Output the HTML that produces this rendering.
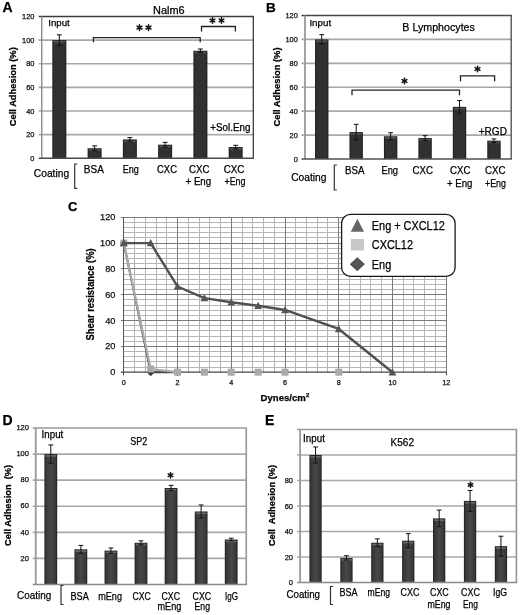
<!DOCTYPE html><html><head><meta charset="utf-8"><style>html,body{margin:0;padding:0;background:#fff;overflow:hidden}svg{display:block;will-change:transform}text{font-family:"Liberation Sans",sans-serif;stroke:currentColor;stroke-width:0.25px}</style></head><body>
<svg width="520" height="615" viewBox="0 0 520 615">
<defs><linearGradient id="g1" x1="0" x2="1" y1="0" y2="0"><stop offset="0" stop-color="#363636"/><stop offset="0.5" stop-color="#484848"/><stop offset="1" stop-color="#363636"/></linearGradient></defs>
<rect width="520" height="615" fill="#fff"/>
<line x1="38.70" y1="134.67" x2="253.30" y2="134.67" stroke="#a8a8a8" stroke-width="1.6"/>
<line x1="38.70" y1="111.03" x2="253.30" y2="111.03" stroke="#a8a8a8" stroke-width="1.6"/>
<line x1="38.70" y1="87.40" x2="253.30" y2="87.40" stroke="#a8a8a8" stroke-width="1.6"/>
<line x1="38.70" y1="63.77" x2="253.30" y2="63.77" stroke="#a8a8a8" stroke-width="1.6"/>
<line x1="38.70" y1="40.13" x2="253.30" y2="40.13" stroke="#a8a8a8" stroke-width="1.6"/>
<line x1="38.70" y1="16.50" x2="253.95" y2="16.50" stroke="#3c3c3c" stroke-width="1.3"/>
<line x1="253.30" y1="16.50" x2="253.30" y2="158.30" stroke="#3c3c3c" stroke-width="1.3"/>
<line x1="41.70" y1="16.50" x2="41.70" y2="158.30" stroke="#8a8a8a" stroke-width="1.4"/>
<rect x="52.33" y="40.13" width="14.00" height="118.17" fill="#202020"/>
<rect x="53.43" y="41.13" width="11.80" height="117.17" fill="#313131"/>
<rect x="53.43" y="41.13" width="11.80" height="1.50" fill="#565656"/>
<path d="M59.33 34.82V45.45M56.83 34.82H61.83M56.83 45.45H61.83" stroke="#111" stroke-width="1" fill="none"/>
<rect x="87.60" y="148.26" width="14.00" height="10.04" fill="#202020"/>
<rect x="88.70" y="149.26" width="11.80" height="9.04" fill="#313131"/>
<rect x="88.70" y="149.26" width="11.80" height="1.50" fill="#565656"/>
<path d="M94.60 145.89V150.62M92.10 145.89H97.10M92.10 150.62H97.10" stroke="#111" stroke-width="1" fill="none"/>
<rect x="122.87" y="139.39" width="14.00" height="18.91" fill="#202020"/>
<rect x="123.97" y="140.39" width="11.80" height="17.91" fill="#313131"/>
<rect x="123.97" y="140.39" width="11.80" height="1.50" fill="#565656"/>
<path d="M129.87 137.62V141.17M127.37 137.62H132.37M127.37 141.17H132.37" stroke="#111" stroke-width="1" fill="none"/>
<rect x="158.13" y="144.71" width="14.00" height="13.59" fill="#202020"/>
<rect x="159.23" y="145.71" width="11.80" height="12.59" fill="#313131"/>
<rect x="159.23" y="145.71" width="11.80" height="1.50" fill="#565656"/>
<path d="M165.13 142.35V147.07M162.63 142.35H167.63M162.63 147.07H167.63" stroke="#111" stroke-width="1" fill="none"/>
<rect x="193.40" y="50.77" width="14.00" height="107.53" fill="#202020"/>
<rect x="194.50" y="51.77" width="11.80" height="106.53" fill="#313131"/>
<rect x="194.50" y="51.77" width="11.80" height="1.50" fill="#565656"/>
<path d="M200.40 49.00V52.54M197.90 49.00H202.90M197.90 52.54H202.90" stroke="#111" stroke-width="1" fill="none"/>
<rect x="228.67" y="147.07" width="14.00" height="11.23" fill="#202020"/>
<rect x="229.77" y="148.07" width="11.80" height="10.23" fill="#313131"/>
<rect x="229.77" y="148.07" width="11.80" height="1.50" fill="#565656"/>
<path d="M235.67 145.30V148.85M233.17 145.30H238.17M233.17 148.85H238.17" stroke="#111" stroke-width="1" fill="none"/>
<line x1="38.70" y1="158.30" x2="253.95" y2="158.30" stroke="#4a4a4a" stroke-width="1.5"/>
<text x="34.40" y="160.90" font-size="7.4" text-anchor="end" fill="#222">0</text>
<text x="34.40" y="137.27" font-size="7.4" text-anchor="end" fill="#222">20</text>
<text x="34.40" y="113.63" font-size="7.4" text-anchor="end" fill="#222">40</text>
<text x="34.40" y="90.00" font-size="7.4" text-anchor="end" fill="#222">60</text>
<text x="34.40" y="66.37" font-size="7.4" text-anchor="end" fill="#222">80</text>
<text x="34.40" y="42.73" font-size="7.4" text-anchor="end" fill="#222">100</text>
<text x="34.40" y="19.10" font-size="7.4" text-anchor="end" fill="#222">120</text>
<text x="2.50" y="12.30" font-size="14" font-weight="bold" fill="#000">A</text>
<text x="153.00" y="13.70" font-size="10" textLength="31.60" lengthAdjust="spacingAndGlyphs">Nalm6</text>
<text x="48.20" y="26.20" font-size="9.8" textLength="21.60" lengthAdjust="spacingAndGlyphs">Input</text>
<text x="16.30" y="86.75" font-size="9.6" font-weight="bold" text-anchor="middle" textLength="79.00" lengthAdjust="spacingAndGlyphs" fill="#000" transform="rotate(-90 16.30 86.75)">Cell Adhesion (%)</text>
<path d="M93.40 42.30V37.60H200.20V42.30" stroke="#222" stroke-width="1.3" fill="none"/>
<line x1="139.50" y1="30.40" x2="139.50" y2="24.70" stroke="#111" stroke-width="1.5" stroke-linecap="round"/>
<line x1="137.03" y1="28.98" x2="141.97" y2="26.12" stroke="#111" stroke-width="1.5" stroke-linecap="round"/>
<line x1="137.03" y1="26.12" x2="141.97" y2="28.98" stroke="#111" stroke-width="1.5" stroke-linecap="round"/>
<line x1="148.50" y1="30.40" x2="148.50" y2="24.70" stroke="#111" stroke-width="1.5" stroke-linecap="round"/>
<line x1="146.03" y1="28.98" x2="150.97" y2="26.12" stroke="#111" stroke-width="1.5" stroke-linecap="round"/>
<line x1="146.03" y1="26.12" x2="150.97" y2="28.98" stroke="#111" stroke-width="1.5" stroke-linecap="round"/>
<path d="M201.50 31.50V26.50H235.40V31.50" stroke="#222" stroke-width="1.3" fill="none"/>
<line x1="212.50" y1="23.15" x2="212.50" y2="17.75" stroke="#111" stroke-width="1.5" stroke-linecap="round"/>
<line x1="210.16" y1="21.80" x2="214.84" y2="19.10" stroke="#111" stroke-width="1.5" stroke-linecap="round"/>
<line x1="210.16" y1="19.10" x2="214.84" y2="21.80" stroke="#111" stroke-width="1.5" stroke-linecap="round"/>
<line x1="221.50" y1="23.15" x2="221.50" y2="17.75" stroke="#111" stroke-width="1.5" stroke-linecap="round"/>
<line x1="219.16" y1="21.80" x2="223.84" y2="19.10" stroke="#111" stroke-width="1.5" stroke-linecap="round"/>
<line x1="219.16" y1="19.10" x2="223.84" y2="21.80" stroke="#111" stroke-width="1.5" stroke-linecap="round"/>
<rect x="209.50" y="121.00" width="42.50" height="12.50" fill="#fff"/>
<text x="210.20" y="130.50" font-size="10" textLength="40.30" lengthAdjust="spacingAndGlyphs">+Sol.Eng</text>
<text x="33.80" y="177.40" font-size="10.6" textLength="35.30" lengthAdjust="spacingAndGlyphs">Coating</text>
<path d="M77.30 164.00H74.70V188.30H77.30" stroke="#333" stroke-width="1.2" fill="none"/>
<text x="83.80" y="173.00" font-size="10.3" textLength="20.00" lengthAdjust="spacingAndGlyphs">BSA</text>
<text x="122.80" y="173.00" font-size="10.3" textLength="16.00" lengthAdjust="spacingAndGlyphs">Eng</text>
<text x="157.00" y="173.00" font-size="10.3" textLength="20.00" lengthAdjust="spacingAndGlyphs">CXC</text>
<text x="189.00" y="173.00" font-size="10.3" textLength="20.50" lengthAdjust="spacingAndGlyphs">CXC</text>
<text x="185.50" y="184.60" font-size="10.3" textLength="25.70" lengthAdjust="spacingAndGlyphs">+ Eng</text>
<text x="223.70" y="173.00" font-size="10.3" textLength="20.80" lengthAdjust="spacingAndGlyphs">CXC</text>
<text x="224.50" y="184.60" font-size="10.3" textLength="21.00" lengthAdjust="spacingAndGlyphs">+Eng</text>
<line x1="301.50" y1="135.08" x2="511.20" y2="135.08" stroke="#a8a8a8" stroke-width="1.6"/>
<line x1="301.50" y1="111.17" x2="511.20" y2="111.17" stroke="#a8a8a8" stroke-width="1.6"/>
<line x1="301.50" y1="87.25" x2="511.20" y2="87.25" stroke="#a8a8a8" stroke-width="1.6"/>
<line x1="301.50" y1="63.33" x2="511.20" y2="63.33" stroke="#a8a8a8" stroke-width="1.6"/>
<line x1="301.50" y1="39.42" x2="511.20" y2="39.42" stroke="#a8a8a8" stroke-width="1.6"/>
<line x1="301.50" y1="15.50" x2="511.85" y2="15.50" stroke="#484848" stroke-width="1.3"/>
<line x1="511.20" y1="15.50" x2="511.20" y2="159.00" stroke="#484848" stroke-width="1.3"/>
<line x1="305.00" y1="15.50" x2="305.00" y2="159.00" stroke="#999" stroke-width="1.8"/>
<rect x="315.03" y="39.42" width="13.40" height="119.58" fill="#202020"/>
<rect x="316.13" y="40.42" width="11.20" height="118.58" fill="#313131"/>
<rect x="316.13" y="40.42" width="11.20" height="1.50" fill="#565656"/>
<path d="M321.73 34.63V44.20M319.33 34.63H324.12M319.33 44.20H324.12" stroke="#111" stroke-width="1" fill="none"/>
<rect x="349.48" y="132.09" width="13.40" height="26.91" fill="#202020"/>
<rect x="350.58" y="133.09" width="11.20" height="25.91" fill="#313131"/>
<rect x="350.58" y="133.09" width="11.20" height="1.50" fill="#565656"/>
<path d="M356.18 124.32V139.87M353.78 124.32H358.57M353.78 139.87H358.57" stroke="#111" stroke-width="1" fill="none"/>
<rect x="383.93" y="136.28" width="13.40" height="22.72" fill="#202020"/>
<rect x="385.03" y="137.28" width="11.20" height="21.72" fill="#313131"/>
<rect x="385.03" y="137.28" width="11.20" height="1.50" fill="#565656"/>
<path d="M390.62 132.69V139.87M388.23 132.69H393.02M388.23 139.87H393.02" stroke="#111" stroke-width="1" fill="none"/>
<rect x="418.38" y="138.07" width="13.40" height="20.93" fill="#202020"/>
<rect x="419.48" y="139.07" width="11.20" height="19.93" fill="#313131"/>
<rect x="419.48" y="139.07" width="11.20" height="1.50" fill="#565656"/>
<path d="M425.07 135.68V140.46M422.68 135.68H427.47M422.68 140.46H427.47" stroke="#111" stroke-width="1" fill="none"/>
<rect x="452.82" y="106.86" width="13.40" height="52.14" fill="#202020"/>
<rect x="453.93" y="107.86" width="11.20" height="51.14" fill="#313131"/>
<rect x="453.93" y="107.86" width="11.20" height="1.50" fill="#565656"/>
<path d="M459.52 100.52V113.20M457.12 100.52H461.92M457.12 113.20H461.92" stroke="#111" stroke-width="1" fill="none"/>
<rect x="487.27" y="140.70" width="13.40" height="18.30" fill="#202020"/>
<rect x="488.38" y="141.70" width="11.20" height="17.30" fill="#313131"/>
<rect x="488.38" y="141.70" width="11.20" height="1.50" fill="#565656"/>
<path d="M493.97 138.91V142.50M491.57 138.91H496.37M491.57 142.50H496.37" stroke="#111" stroke-width="1" fill="none"/>
<line x1="301.50" y1="159.00" x2="511.85" y2="159.00" stroke="#505050" stroke-width="1.5"/>
<text x="297.80" y="161.70" font-size="7.4" text-anchor="end" fill="#222">0</text>
<text x="297.80" y="137.78" font-size="7.4" text-anchor="end" fill="#222">20</text>
<text x="297.80" y="113.87" font-size="7.4" text-anchor="end" fill="#222">40</text>
<text x="297.80" y="89.95" font-size="7.4" text-anchor="end" fill="#222">60</text>
<text x="297.80" y="66.03" font-size="7.4" text-anchor="end" fill="#222">80</text>
<text x="297.80" y="42.12" font-size="7.4" text-anchor="end" fill="#222">100</text>
<text x="297.80" y="18.20" font-size="7.4" text-anchor="end" fill="#222">120</text>
<text x="266.00" y="12.20" font-size="13.5" font-weight="bold" fill="#000">B</text>
<text x="402.30" y="31.10" font-size="11.6" textLength="72.60" lengthAdjust="spacingAndGlyphs">B Lymphocytes</text>
<text x="309.40" y="26.20" font-size="9.8" textLength="21.80" lengthAdjust="spacingAndGlyphs">Input</text>
<text x="280.00" y="87.00" font-size="9.6" font-weight="bold" text-anchor="middle" textLength="79.00" lengthAdjust="spacingAndGlyphs" fill="#000" transform="rotate(-90 280.00 87.00)">Cell Adhesion (%)</text>
<path d="M352.00 95.30V90.10H459.50V95.30" stroke="#222" stroke-width="1.3" fill="none"/>
<line x1="404.50" y1="83.80" x2="404.50" y2="78.20" stroke="#111" stroke-width="1.5" stroke-linecap="round"/>
<line x1="402.08" y1="82.40" x2="406.92" y2="79.60" stroke="#111" stroke-width="1.5" stroke-linecap="round"/>
<line x1="402.08" y1="79.60" x2="406.92" y2="82.40" stroke="#111" stroke-width="1.5" stroke-linecap="round"/>
<path d="M460.50 81.20V75.80H494.60V81.20" stroke="#222" stroke-width="1.3" fill="none"/>
<line x1="477.50" y1="71.80" x2="477.50" y2="66.20" stroke="#111" stroke-width="1.5" stroke-linecap="round"/>
<line x1="475.08" y1="70.40" x2="479.92" y2="67.60" stroke="#111" stroke-width="1.5" stroke-linecap="round"/>
<line x1="475.08" y1="67.60" x2="479.92" y2="70.40" stroke="#111" stroke-width="1.5" stroke-linecap="round"/>
<text x="478.70" y="135.00" font-size="10.3" textLength="28.30" lengthAdjust="spacingAndGlyphs">+RGD</text>
<text x="291.20" y="181.00" font-size="11" textLength="35.20" lengthAdjust="spacingAndGlyphs">Coating</text>
<path d="M336.90 165.00H334.30V190.00H336.90" stroke="#333" stroke-width="1.2" fill="none"/>
<text x="345.00" y="173.80" font-size="10.3" textLength="19.50" lengthAdjust="spacingAndGlyphs">BSA</text>
<text x="381.50" y="173.80" font-size="10.3" textLength="16.50" lengthAdjust="spacingAndGlyphs">Eng</text>
<text x="412.50" y="173.80" font-size="10.3" textLength="20.50" lengthAdjust="spacingAndGlyphs">CXC</text>
<text x="450.00" y="173.80" font-size="10.3" textLength="20.50" lengthAdjust="spacingAndGlyphs">CXC</text>
<text x="447.00" y="187.00" font-size="10.3" textLength="25.50" lengthAdjust="spacingAndGlyphs">+ Eng</text>
<text x="485.00" y="173.80" font-size="10.3" textLength="20.50" lengthAdjust="spacingAndGlyphs">CXC</text>
<text x="485.00" y="187.00" font-size="10.3" textLength="21.00" lengthAdjust="spacingAndGlyphs">+Eng</text>
<line x1="134.50" y1="217.30" x2="134.50" y2="372.20" stroke="#b5b5b5" stroke-width="1"/>
<line x1="145.50" y1="217.30" x2="145.50" y2="372.20" stroke="#b5b5b5" stroke-width="1"/>
<line x1="156.50" y1="217.30" x2="156.50" y2="372.20" stroke="#b5b5b5" stroke-width="1"/>
<line x1="166.50" y1="217.30" x2="166.50" y2="372.20" stroke="#b5b5b5" stroke-width="1"/>
<line x1="188.50" y1="217.30" x2="188.50" y2="372.20" stroke="#b5b5b5" stroke-width="1"/>
<line x1="199.50" y1="217.30" x2="199.50" y2="372.20" stroke="#b5b5b5" stroke-width="1"/>
<line x1="209.50" y1="217.30" x2="209.50" y2="372.20" stroke="#b5b5b5" stroke-width="1"/>
<line x1="220.50" y1="217.30" x2="220.50" y2="372.20" stroke="#b5b5b5" stroke-width="1"/>
<line x1="242.50" y1="217.30" x2="242.50" y2="372.20" stroke="#b5b5b5" stroke-width="1"/>
<line x1="252.50" y1="217.30" x2="252.50" y2="372.20" stroke="#b5b5b5" stroke-width="1"/>
<line x1="263.50" y1="217.30" x2="263.50" y2="372.20" stroke="#b5b5b5" stroke-width="1"/>
<line x1="274.50" y1="217.30" x2="274.50" y2="372.20" stroke="#b5b5b5" stroke-width="1"/>
<line x1="295.50" y1="217.30" x2="295.50" y2="372.20" stroke="#b5b5b5" stroke-width="1"/>
<line x1="306.50" y1="217.30" x2="306.50" y2="372.20" stroke="#b5b5b5" stroke-width="1"/>
<line x1="317.50" y1="217.30" x2="317.50" y2="372.20" stroke="#b5b5b5" stroke-width="1"/>
<line x1="327.50" y1="217.30" x2="327.50" y2="372.20" stroke="#b5b5b5" stroke-width="1"/>
<line x1="349.50" y1="217.30" x2="349.50" y2="372.20" stroke="#b5b5b5" stroke-width="1"/>
<line x1="360.50" y1="217.30" x2="360.50" y2="372.20" stroke="#b5b5b5" stroke-width="1"/>
<line x1="370.50" y1="217.30" x2="370.50" y2="372.20" stroke="#b5b5b5" stroke-width="1"/>
<line x1="381.50" y1="217.30" x2="381.50" y2="372.20" stroke="#b5b5b5" stroke-width="1"/>
<line x1="403.50" y1="217.30" x2="403.50" y2="372.20" stroke="#b5b5b5" stroke-width="1"/>
<line x1="413.50" y1="217.30" x2="413.50" y2="372.20" stroke="#b5b5b5" stroke-width="1"/>
<line x1="424.50" y1="217.30" x2="424.50" y2="372.20" stroke="#b5b5b5" stroke-width="1"/>
<line x1="435.50" y1="217.30" x2="435.50" y2="372.20" stroke="#b5b5b5" stroke-width="1"/>
<line x1="123.80" y1="367.50" x2="446.20" y2="367.50" stroke="#b5b5b5" stroke-width="1"/>
<line x1="123.80" y1="361.50" x2="446.20" y2="361.50" stroke="#b5b5b5" stroke-width="1"/>
<line x1="123.80" y1="356.50" x2="446.20" y2="356.50" stroke="#b5b5b5" stroke-width="1"/>
<line x1="123.80" y1="351.50" x2="446.20" y2="351.50" stroke="#b5b5b5" stroke-width="1"/>
<line x1="123.80" y1="341.50" x2="446.20" y2="341.50" stroke="#b5b5b5" stroke-width="1"/>
<line x1="123.80" y1="336.50" x2="446.20" y2="336.50" stroke="#b5b5b5" stroke-width="1"/>
<line x1="123.80" y1="330.50" x2="446.20" y2="330.50" stroke="#b5b5b5" stroke-width="1"/>
<line x1="123.80" y1="325.50" x2="446.20" y2="325.50" stroke="#b5b5b5" stroke-width="1"/>
<line x1="123.80" y1="315.50" x2="446.20" y2="315.50" stroke="#b5b5b5" stroke-width="1"/>
<line x1="123.80" y1="310.50" x2="446.20" y2="310.50" stroke="#b5b5b5" stroke-width="1"/>
<line x1="123.80" y1="305.50" x2="446.20" y2="305.50" stroke="#b5b5b5" stroke-width="1"/>
<line x1="123.80" y1="299.50" x2="446.20" y2="299.50" stroke="#b5b5b5" stroke-width="1"/>
<line x1="123.80" y1="289.50" x2="446.20" y2="289.50" stroke="#b5b5b5" stroke-width="1"/>
<line x1="123.80" y1="284.50" x2="446.20" y2="284.50" stroke="#b5b5b5" stroke-width="1"/>
<line x1="123.80" y1="279.50" x2="446.20" y2="279.50" stroke="#b5b5b5" stroke-width="1"/>
<line x1="123.80" y1="274.50" x2="446.20" y2="274.50" stroke="#b5b5b5" stroke-width="1"/>
<line x1="123.80" y1="263.50" x2="446.20" y2="263.50" stroke="#b5b5b5" stroke-width="1"/>
<line x1="123.80" y1="258.50" x2="446.20" y2="258.50" stroke="#b5b5b5" stroke-width="1"/>
<line x1="123.80" y1="253.50" x2="446.20" y2="253.50" stroke="#b5b5b5" stroke-width="1"/>
<line x1="123.80" y1="248.50" x2="446.20" y2="248.50" stroke="#b5b5b5" stroke-width="1"/>
<line x1="123.80" y1="237.50" x2="446.20" y2="237.50" stroke="#b5b5b5" stroke-width="1"/>
<line x1="123.80" y1="232.50" x2="446.20" y2="232.50" stroke="#b5b5b5" stroke-width="1"/>
<line x1="123.80" y1="227.50" x2="446.20" y2="227.50" stroke="#b5b5b5" stroke-width="1"/>
<line x1="123.80" y1="222.50" x2="446.20" y2="222.50" stroke="#b5b5b5" stroke-width="1"/>
<line x1="177.50" y1="217.30" x2="177.50" y2="372.20" stroke="#7a7a7a" stroke-width="1"/>
<line x1="231.50" y1="217.30" x2="231.50" y2="372.20" stroke="#7a7a7a" stroke-width="1"/>
<line x1="285.50" y1="217.30" x2="285.50" y2="372.20" stroke="#7a7a7a" stroke-width="1"/>
<line x1="338.50" y1="217.30" x2="338.50" y2="372.20" stroke="#7a7a7a" stroke-width="1"/>
<line x1="392.50" y1="217.30" x2="392.50" y2="372.20" stroke="#7a7a7a" stroke-width="1"/>
<line x1="446.50" y1="217.30" x2="446.50" y2="372.20" stroke="#7a7a7a" stroke-width="1"/>
<line x1="120.80" y1="346.50" x2="446.20" y2="346.50" stroke="#7a7a7a" stroke-width="1"/>
<line x1="120.80" y1="320.50" x2="446.20" y2="320.50" stroke="#7a7a7a" stroke-width="1"/>
<line x1="120.80" y1="294.50" x2="446.20" y2="294.50" stroke="#7a7a7a" stroke-width="1"/>
<line x1="120.80" y1="268.50" x2="446.20" y2="268.50" stroke="#7a7a7a" stroke-width="1"/>
<line x1="120.80" y1="243.50" x2="446.20" y2="243.50" stroke="#7a7a7a" stroke-width="1"/>
<line x1="120.80" y1="217.50" x2="446.20" y2="217.50" stroke="#7a7a7a" stroke-width="1"/>
<line x1="123.50" y1="217.30" x2="123.50" y2="375.20" stroke="#555" stroke-width="1"/>
<line x1="120.80" y1="372.20" x2="446.20" y2="372.20" stroke="#444" stroke-width="1.2"/>
<line x1="123.50" y1="372.20" x2="123.50" y2="375.20" stroke="#444" stroke-width="1"/>
<line x1="177.50" y1="372.20" x2="177.50" y2="375.20" stroke="#444" stroke-width="1"/>
<line x1="231.50" y1="372.20" x2="231.50" y2="375.20" stroke="#444" stroke-width="1"/>
<line x1="285.50" y1="372.20" x2="285.50" y2="375.20" stroke="#444" stroke-width="1"/>
<line x1="338.50" y1="372.20" x2="338.50" y2="375.20" stroke="#444" stroke-width="1"/>
<line x1="392.50" y1="372.20" x2="392.50" y2="375.20" stroke="#444" stroke-width="1"/>
<line x1="446.50" y1="372.20" x2="446.50" y2="375.20" stroke="#444" stroke-width="1"/>
<text x="115.40" y="375.20" font-size="9.2" text-anchor="end" fill="#222">0</text>
<text x="115.40" y="349.38" font-size="9.2" text-anchor="end" fill="#222">20</text>
<text x="115.40" y="323.57" font-size="9.2" text-anchor="end" fill="#222">40</text>
<text x="115.40" y="297.75" font-size="9.2" text-anchor="end" fill="#222">60</text>
<text x="115.40" y="271.93" font-size="9.2" text-anchor="end" fill="#222">80</text>
<text x="115.40" y="246.12" font-size="9.2" text-anchor="end" fill="#222">100</text>
<text x="115.40" y="220.30" font-size="9.2" text-anchor="end" fill="#222">120</text>
<text x="123.80" y="384.80" font-size="7.2" text-anchor="middle" fill="#222">0</text>
<text x="177.53" y="384.80" font-size="7.2" text-anchor="middle" fill="#222">2</text>
<text x="231.27" y="384.80" font-size="7.2" text-anchor="middle" fill="#222">4</text>
<text x="285.00" y="384.80" font-size="7.2" text-anchor="middle" fill="#222">6</text>
<text x="338.73" y="384.80" font-size="7.2" text-anchor="middle" fill="#222">8</text>
<text x="392.47" y="384.80" font-size="7.2" text-anchor="middle" fill="#222">10</text>
<text x="446.20" y="384.80" font-size="7.2" text-anchor="middle" fill="#222">12</text>
<text x="68.00" y="211.00" font-size="13" font-weight="bold" fill="#000">C</text>
<text x="94.30" y="294.40" font-size="10.8" font-weight="bold" text-anchor="middle" textLength="92.00" lengthAdjust="spacingAndGlyphs" fill="#000" transform="rotate(-90 94.30 294.40)">Shear resistance (%)</text>
<text x="260.60" y="400.60" font-size="9.8" font-weight="bold" textLength="45.20" lengthAdjust="spacingAndGlyphs" fill="#000">Dynes/cm</text>
<text x="305.90" y="397.00" font-size="6" font-weight="bold" fill="#000">2</text>
<polyline points="123.80,243.12 150.67,372.20 177.53,372.20" fill="none" stroke="#444" stroke-width="2"/>
<path d="M123.80 239.12L127.80 243.12L123.80 247.12L119.80 243.12Z" fill="#3a3a3a"/>
<path d="M150.67 368.20L154.67 372.20L150.67 376.20L146.67 372.20Z" fill="#3a3a3a"/>
<path d="M177.53 368.20L181.53 372.20L177.53 376.20L173.53 372.20Z" fill="#3a3a3a"/>
<polyline points="123.80,243.12 150.67,368.97 177.53,372.20" fill="none" stroke="#aaa" stroke-width="2.2"/>
<rect x="120.30" y="239.62" width="7.00" height="7.00" fill="#aaa"/>
<rect x="147.17" y="365.47" width="7.00" height="7.00" fill="#aaa"/>
<rect x="174.03" y="368.70" width="7.00" height="7.00" fill="#aaa"/>
<rect x="200.90" y="368.70" width="7.00" height="7.00" fill="#aaa"/>
<rect x="227.77" y="368.70" width="7.00" height="7.00" fill="#aaa"/>
<rect x="254.63" y="368.70" width="7.00" height="7.00" fill="#aaa"/>
<rect x="281.50" y="368.70" width="7.00" height="7.00" fill="#aaa"/>
<rect x="335.23" y="368.70" width="7.00" height="7.00" fill="#aaa"/>
<polyline points="123.80,243.12 150.67,243.12 177.53,286.49 204.40,298.11 231.27,302.24 258.13,305.72 285.00,309.98 338.73,328.96 392.47,372.20" fill="none" stroke="#505050" stroke-width="2.4" stroke-linejoin="round"/>
<path d="M123.80 239.12L127.70 246.32L119.90 246.32Z" fill="#555"/>
<path d="M150.67 239.12L154.57 246.32L146.77 246.32Z" fill="#555"/>
<path d="M177.53 282.49L181.43 289.69L173.63 289.69Z" fill="#555"/>
<path d="M204.40 294.11L208.30 301.31L200.50 301.31Z" fill="#555"/>
<path d="M231.27 298.24L235.17 305.44L227.37 305.44Z" fill="#555"/>
<path d="M258.13 301.72L262.03 308.92L254.23 308.92Z" fill="#555"/>
<path d="M285.00 305.98L288.90 313.18L281.10 313.18Z" fill="#555"/>
<path d="M338.73 324.96L342.63 332.16L334.83 332.16Z" fill="#555"/>
<path d="M392.47 368.20L396.37 375.40L388.57 375.40Z" fill="#555"/>
<rect x="341.6" y="214.3" width="113.5" height="62.1" rx="9" ry="9" fill="#fff" stroke="#1a1a1a" stroke-width="1.3"/>
<path d="M357.4 218.7L364 231.7L350.8 231.7Z" fill="#666"/>
<rect x="350.80" y="239.00" width="13.20" height="11.50" fill="#c8c8c8"/>
<path d="M357.3 257.7L364.3 264.2L357.3 270.7L350.3 264.2Z" fill="#555" stroke="#333" stroke-width="0.8"/>
<text x="371.80" y="229.70" font-size="12.5" textLength="73.00" lengthAdjust="spacingAndGlyphs">Eng + CXCL12</text>
<text x="371.80" y="248.80" font-size="12.5" textLength="41.20" lengthAdjust="spacingAndGlyphs">CXCL12</text>
<text x="371.80" y="268.50" font-size="12.5" textLength="19.50" lengthAdjust="spacingAndGlyphs">Eng</text>
<line x1="32.75" y1="558.42" x2="246.25" y2="558.42" stroke="#a8a8a8" stroke-width="1.6"/>
<line x1="32.75" y1="532.33" x2="246.25" y2="532.33" stroke="#a8a8a8" stroke-width="1.6"/>
<line x1="32.75" y1="506.25" x2="246.25" y2="506.25" stroke="#a8a8a8" stroke-width="1.6"/>
<line x1="32.75" y1="480.17" x2="246.25" y2="480.17" stroke="#a8a8a8" stroke-width="1.6"/>
<line x1="32.75" y1="454.08" x2="246.25" y2="454.08" stroke="#a8a8a8" stroke-width="1.6"/>
<line x1="32.75" y1="428.00" x2="247.10" y2="428.00" stroke="#9a9a9a" stroke-width="1.7"/>
<line x1="246.25" y1="428.00" x2="246.25" y2="584.50" stroke="#9a9a9a" stroke-width="1.7"/>
<line x1="35.75" y1="428.00" x2="35.75" y2="584.50" stroke="#999" stroke-width="1.8"/>
<rect x="44.39" y="454.08" width="12.80" height="130.42" fill="#262626"/>
<rect x="45.49" y="455.08" width="10.60" height="129.42" fill="url(#g1)"/>
<rect x="45.49" y="455.08" width="10.60" height="1.60" fill="#6a6a6a"/>
<path d="M50.79 444.95V463.21M48.39 444.95H53.19M48.39 463.21H53.19" stroke="#111" stroke-width="1" fill="none"/>
<rect x="74.46" y="549.29" width="12.80" height="35.21" fill="#262626"/>
<rect x="75.56" y="550.29" width="10.60" height="34.21" fill="url(#g1)"/>
<rect x="75.56" y="550.29" width="10.60" height="1.60" fill="#6a6a6a"/>
<path d="M80.86 545.38V553.20M78.46 545.38H83.26M78.46 553.20H83.26" stroke="#111" stroke-width="1" fill="none"/>
<rect x="104.53" y="550.59" width="12.80" height="33.91" fill="#262626"/>
<rect x="105.63" y="551.59" width="10.60" height="32.91" fill="url(#g1)"/>
<rect x="105.63" y="551.59" width="10.60" height="1.60" fill="#6a6a6a"/>
<path d="M110.93 547.98V553.20M108.53 547.98H113.33M108.53 553.20H113.33" stroke="#111" stroke-width="1" fill="none"/>
<rect x="134.60" y="542.77" width="12.80" height="41.73" fill="#262626"/>
<rect x="135.70" y="543.77" width="10.60" height="40.73" fill="url(#g1)"/>
<rect x="135.70" y="543.77" width="10.60" height="1.60" fill="#6a6a6a"/>
<path d="M141.00 540.81V544.72M138.60 540.81H143.40M138.60 544.72H143.40" stroke="#111" stroke-width="1" fill="none"/>
<rect x="164.67" y="487.99" width="12.80" height="96.51" fill="#262626"/>
<rect x="165.77" y="488.99" width="10.60" height="95.51" fill="url(#g1)"/>
<rect x="165.77" y="488.99" width="10.60" height="1.60" fill="#6a6a6a"/>
<path d="M171.07 485.38V490.60M168.67 485.38H173.47M168.67 490.60H173.47" stroke="#111" stroke-width="1" fill="none"/>
<rect x="194.74" y="511.47" width="12.80" height="73.03" fill="#262626"/>
<rect x="195.84" y="512.47" width="10.60" height="72.03" fill="url(#g1)"/>
<rect x="195.84" y="512.47" width="10.60" height="1.60" fill="#6a6a6a"/>
<path d="M201.14 504.95V517.99M198.74 504.95H203.54M198.74 517.99H203.54" stroke="#111" stroke-width="1" fill="none"/>
<rect x="224.81" y="539.51" width="12.80" height="44.99" fill="#262626"/>
<rect x="225.91" y="540.51" width="10.60" height="43.99" fill="url(#g1)"/>
<rect x="225.91" y="540.51" width="10.60" height="1.60" fill="#6a6a6a"/>
<path d="M231.21 538.20V540.81M228.81 538.20H233.61M228.81 540.81H233.61" stroke="#111" stroke-width="1" fill="none"/>
<line x1="32.75" y1="584.50" x2="247.10" y2="584.50" stroke="#8a8a8a" stroke-width="1.5"/>
<text x="28.90" y="560.62" font-size="7.5" text-anchor="end" fill="#222">20</text>
<text x="28.90" y="534.53" font-size="7.5" text-anchor="end" fill="#222">40</text>
<text x="28.90" y="508.45" font-size="7.5" text-anchor="end" fill="#222">60</text>
<text x="28.90" y="482.37" font-size="7.5" text-anchor="end" fill="#222">80</text>
<text x="28.90" y="456.28" font-size="7.5" text-anchor="end" fill="#222">100</text>
<text x="28.90" y="430.20" font-size="7.5" text-anchor="end" fill="#222">120</text>
<text x="2.50" y="425.00" font-size="14" font-weight="bold" fill="#000">D</text>
<text x="130.20" y="445.00" font-size="10.5" textLength="17.00" lengthAdjust="spacingAndGlyphs">SP2</text>
<text x="41.60" y="438.20" font-size="10" textLength="21.70" lengthAdjust="spacingAndGlyphs">Input</text>
<text x="11.30" y="505.40" font-size="9.6" font-weight="bold" text-anchor="middle" textLength="81.20" lengthAdjust="spacingAndGlyphs" fill="#000" transform="rotate(-90 11.30 505.40)">Cell Adhesion&#160; (%)</text>
<line x1="170.50" y1="477.90" x2="170.50" y2="472.50" stroke="#111" stroke-width="1.5" stroke-linecap="round"/>
<line x1="168.16" y1="476.55" x2="172.84" y2="473.85" stroke="#111" stroke-width="1.5" stroke-linecap="round"/>
<line x1="168.16" y1="473.85" x2="172.84" y2="476.55" stroke="#111" stroke-width="1.5" stroke-linecap="round"/>
<text x="17.00" y="599.00" font-size="11.5" textLength="34.20" lengthAdjust="spacingAndGlyphs">Coating</text>
<path d="M63.60 585.50H61.00V604.50H63.60" stroke="#333" stroke-width="1.2" fill="none"/>
<text x="70.50" y="599.50" font-size="10" textLength="18.30" lengthAdjust="spacingAndGlyphs">BSA</text>
<text x="98.20" y="599.50" font-size="10" textLength="23.80" lengthAdjust="spacingAndGlyphs">mEng</text>
<text x="132.50" y="599.50" font-size="10" textLength="18.30" lengthAdjust="spacingAndGlyphs">CXC</text>
<text x="161.50" y="599.50" font-size="10" textLength="18.50" lengthAdjust="spacingAndGlyphs">CXC</text>
<text x="157.50" y="609.50" font-size="10" textLength="23.80" lengthAdjust="spacingAndGlyphs">mEng</text>
<text x="192.50" y="599.50" font-size="10" textLength="18.70" lengthAdjust="spacingAndGlyphs">CXC</text>
<text x="194.50" y="609.50" font-size="10" textLength="15.50" lengthAdjust="spacingAndGlyphs">Eng</text>
<text x="225.00" y="599.50" font-size="10" textLength="13.00" lengthAdjust="spacingAndGlyphs">IgG</text>
<line x1="297.10" y1="557.00" x2="516.40" y2="557.00" stroke="#a8a8a8" stroke-width="1.6"/>
<line x1="297.10" y1="531.50" x2="516.40" y2="531.50" stroke="#a8a8a8" stroke-width="1.6"/>
<line x1="297.10" y1="506.00" x2="516.40" y2="506.00" stroke="#a8a8a8" stroke-width="1.6"/>
<line x1="297.10" y1="480.50" x2="516.40" y2="480.50" stroke="#a8a8a8" stroke-width="1.6"/>
<line x1="297.10" y1="455.00" x2="516.40" y2="455.00" stroke="#a8a8a8" stroke-width="1.6"/>
<line x1="297.10" y1="429.50" x2="517.25" y2="429.50" stroke="#9a9a9a" stroke-width="1.7"/>
<line x1="516.40" y1="429.50" x2="516.40" y2="582.50" stroke="#9a9a9a" stroke-width="1.7"/>
<line x1="300.10" y1="429.50" x2="300.10" y2="582.50" stroke="#999" stroke-width="1.8"/>
<rect x="309.40" y="455.00" width="12.30" height="127.50" fill="#262626"/>
<rect x="310.50" y="456.00" width="10.10" height="126.50" fill="url(#g1)"/>
<rect x="310.50" y="456.00" width="10.10" height="1.60" fill="#6a6a6a"/>
<path d="M315.55 446.97V463.03M313.15 446.97H317.95M313.15 463.03H317.95" stroke="#111" stroke-width="1" fill="none"/>
<rect x="340.30" y="557.89" width="12.30" height="24.61" fill="#262626"/>
<rect x="341.40" y="558.89" width="10.10" height="23.61" fill="url(#g1)"/>
<rect x="341.40" y="558.89" width="10.10" height="1.60" fill="#6a6a6a"/>
<path d="M346.45 555.73V560.06M344.05 555.73H348.85M344.05 560.06H348.85" stroke="#111" stroke-width="1" fill="none"/>
<rect x="371.20" y="542.72" width="12.30" height="39.78" fill="#262626"/>
<rect x="372.30" y="543.72" width="10.10" height="38.78" fill="url(#g1)"/>
<rect x="372.30" y="543.72" width="10.10" height="1.60" fill="#6a6a6a"/>
<path d="M377.35 538.89V546.54M374.95 538.89H379.75M374.95 546.54H379.75" stroke="#111" stroke-width="1" fill="none"/>
<rect x="402.10" y="540.68" width="12.30" height="41.82" fill="#262626"/>
<rect x="403.20" y="541.68" width="10.10" height="40.82" fill="url(#g1)"/>
<rect x="403.20" y="541.68" width="10.10" height="1.60" fill="#6a6a6a"/>
<path d="M408.25 533.67V547.69M405.85 533.67H410.65M405.85 547.69H410.65" stroke="#111" stroke-width="1" fill="none"/>
<rect x="433.00" y="518.37" width="12.30" height="64.13" fill="#262626"/>
<rect x="434.10" y="519.37" width="10.10" height="63.13" fill="url(#g1)"/>
<rect x="434.10" y="519.37" width="10.10" height="1.60" fill="#6a6a6a"/>
<path d="M439.15 510.08V526.65M436.75 510.08H441.55M436.75 526.65H441.55" stroke="#111" stroke-width="1" fill="none"/>
<rect x="463.90" y="500.90" width="12.30" height="81.60" fill="#262626"/>
<rect x="465.00" y="501.90" width="10.10" height="80.60" fill="url(#g1)"/>
<rect x="465.00" y="501.90" width="10.10" height="1.60" fill="#6a6a6a"/>
<path d="M470.05 490.44V511.36M467.65 490.44H472.45M467.65 511.36H472.45" stroke="#111" stroke-width="1" fill="none"/>
<rect x="494.80" y="546.16" width="12.30" height="36.34" fill="#262626"/>
<rect x="495.90" y="547.16" width="10.10" height="35.34" fill="url(#g1)"/>
<rect x="495.90" y="547.16" width="10.10" height="1.60" fill="#6a6a6a"/>
<path d="M500.95 536.22V556.11M498.55 536.22H503.35M498.55 556.11H503.35" stroke="#111" stroke-width="1" fill="none"/>
<line x1="297.10" y1="582.50" x2="517.25" y2="582.50" stroke="#8a8a8a" stroke-width="1.5"/>
<text x="293.00" y="585.20" font-size="7.5" text-anchor="end" fill="#222">0</text>
<text x="293.00" y="559.70" font-size="7.5" text-anchor="end" fill="#222">20</text>
<text x="293.00" y="534.20" font-size="7.5" text-anchor="end" fill="#222">40</text>
<text x="293.00" y="508.70" font-size="7.5" text-anchor="end" fill="#222">60</text>
<text x="293.00" y="483.20" font-size="7.5" text-anchor="end" fill="#222">80</text>
<text x="265.00" y="425.00" font-size="14" font-weight="bold" fill="#000">E</text>
<text x="390.60" y="446.00" font-size="10.5" textLength="23.40" lengthAdjust="spacingAndGlyphs">K562</text>
<text x="303.10" y="441.90" font-size="10" textLength="21.80" lengthAdjust="spacingAndGlyphs">Input</text>
<text x="275.30" y="505.50" font-size="9.8" font-weight="bold" text-anchor="middle" textLength="81.40" lengthAdjust="spacingAndGlyphs" fill="#000" transform="rotate(-90 275.30 505.50)">Cell&#160; Adhesion (%)</text>
<line x1="470.50" y1="487.50" x2="470.50" y2="482.30" stroke="#111" stroke-width="1.5" stroke-linecap="round"/>
<line x1="468.25" y1="486.20" x2="472.75" y2="483.60" stroke="#111" stroke-width="1.5" stroke-linecap="round"/>
<line x1="468.25" y1="483.60" x2="472.75" y2="486.20" stroke="#111" stroke-width="1.5" stroke-linecap="round"/>
<text x="286.50" y="598.20" font-size="11.2" textLength="33.50" lengthAdjust="spacingAndGlyphs">Coating</text>
<path d="M333.10 586.50H330.50V604.50H333.10" stroke="#333" stroke-width="1.2" fill="none"/>
<text x="339.50" y="596.30" font-size="10" textLength="18.00" lengthAdjust="spacingAndGlyphs">BSA</text>
<text x="367.50" y="596.30" font-size="10" textLength="22.50" lengthAdjust="spacingAndGlyphs">mEng</text>
<text x="400.50" y="596.30" font-size="10" textLength="19.00" lengthAdjust="spacingAndGlyphs">CXC</text>
<text x="430.00" y="596.30" font-size="10" textLength="18.80" lengthAdjust="spacingAndGlyphs">CXC</text>
<text x="427.50" y="607.50" font-size="10" textLength="23.00" lengthAdjust="spacingAndGlyphs">mEng</text>
<text x="461.00" y="596.30" font-size="10" textLength="19.00" lengthAdjust="spacingAndGlyphs">CXC</text>
<text x="463.00" y="607.50" font-size="10" textLength="15.00" lengthAdjust="spacingAndGlyphs">Eng</text>
<text x="493.00" y="596.30" font-size="10" textLength="14.00" lengthAdjust="spacingAndGlyphs">IgG</text>
</svg></body></html>
